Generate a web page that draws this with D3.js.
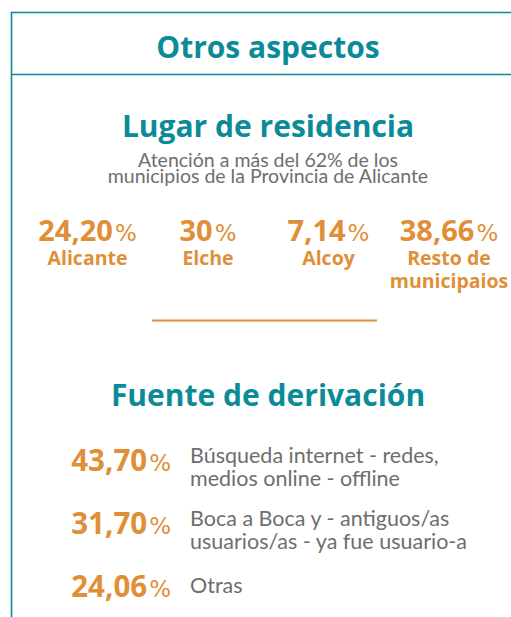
<!DOCTYPE html>
<html>
<head>
<meta charset="utf-8">
<script src="https://cdn.jsdelivr.net/npm/d3@7"></script>
<style>
  html, body { margin: 0; padding: 0; background: #fff; }
  svg { display: block; }
</style>
</head>
<body>
<svg id="chart" width="511" height="617"></svg>
<script>
// ---- data ----
const mainTitle = "Otros aspectos";
const residenceTitle = "Lugar de residencia";
const residenceSubtitle = ["Atención a más del 62% de los", "municipios de la Provincia de Alicante"];
const residenceCategories = ["Alicante", "Elche", "Alcoy", "Resto de municipaios"];
const residenceLabelLines = [["Alicante"], ["Elche"], ["Alcoy"], ["Resto de", "municipaios"]];
const residenceValues = [24.20, 30, 7.14, 38.66];
const sourceTitle = "Fuente de derivación";
const sourceCategories = ["Búsqueda internet", "Boca a Boca", "Otras"];
const sourceLabelLines = [
  ["Búsqueda internet - redes,", "medios online - offline"],
  ["Boca a Boca y - antiguos/as", "usuarios/as - ya fue usuario-a"],
  ["Otras"]
];
const sourceValues = [43.70, 31.70, 24.06];

// ---- style ----
const TEAL = "#0b8b98";
const ORANGE = "#df8f37";
const GRAY = "#6e6e6e";
const BOLD = "'Open Sans', Lato, sans-serif";
const LIGHT = "Lato, 'Open Sans', sans-serif";
const PCT = "'DejaVu Sans', 'Open Sans', sans-serif";

const W = 511, H = 617;
const svg = d3.select("#chart");

const fmt = v => Number.isInteger(v) ? String(v) : d3.format(".2f")(v).replace(".", ",");

// frame
svg.append("path")
  .attr("d", `M11.5,${H} V12.5 H${W}`)
  .attr("fill", "none").attr("stroke", TEAL).attr("stroke-width", 1.6);
svg.append("line")
  .attr("x1", 11.5).attr("x2", W).attr("y1", 74.5).attr("y2", 74.5)
  .attr("stroke", TEAL).attr("stroke-width", 1.6);

const cx = 268;

svg.append("text").text(mainTitle)
  .attr("x", cx).attr("y", 58).attr("text-anchor", "middle")
  .attr("font-family", BOLD).attr("font-weight", 700).attr("font-size", 30)
  .attr("fill", TEAL);

svg.append("text").text(residenceTitle)
  .attr("x", cx).attr("y", 137).attr("text-anchor", "middle")
  .attr("font-family", BOLD).attr("font-weight", 700).attr("font-size", 30)
  .attr("fill", TEAL);

svg.append("g").selectAll("text").data(residenceSubtitle).join("text")
  .text(d => d)
  .attr("x", cx).attr("y", (d, i) => 167 + i * 16).attr("text-anchor", "middle")
  .attr("font-family", LIGHT).attr("font-weight", 400).attr("font-size", 19.5)
  .attr("fill", GRAY);

// residence columns
const xCol = d3.scalePoint().domain(residenceCategories).range([87.5, 449]);
const cols = svg.append("g").selectAll("g").data(residenceCategories).join("g")
  .attr("transform", d => `translate(${xCol(d)},0)`);
const numText = cols.append("text")
  .attr("y", 241).attr("text-anchor", "middle")
  .attr("font-family", BOLD).attr("font-weight", 700).attr("font-size", 29)
  .attr("fill", ORANGE);
numText.append("tspan").text((d, i) => fmt(residenceValues[i]));
numText.append("tspan").text("%").attr("font-family", PCT).attr("font-size", 23)
  .attr("font-weight", 400).attr("dx", 2);
cols.each(function (d, i) {
  d3.select(this).selectAll("text.lbl").data(residenceLabelLines[i]).join("text")
    .attr("class", "lbl").text(t => t)
    .attr("y", (t, j) => 264.5 + j * 23).attr("text-anchor", "middle")
    .attr("font-family", BOLD).attr("font-weight", 700).attr("font-size", 19.5)
    .attr("fill", ORANGE);
});

// separator
svg.append("line")
  .attr("x1", 152).attr("x2", 377).attr("y1", 320.5).attr("y2", 320.5)
  .attr("stroke", ORANGE).attr("stroke-width", 2);

svg.append("text").text(sourceTitle)
  .attr("x", cx).attr("y", 406).attr("text-anchor", "middle")
  .attr("font-family", BOLD).attr("font-weight", 700).attr("font-size", 30)
  .attr("fill", TEAL);

// source rows
const yRow = d3.scalePoint().domain(sourceCategories).range([471, 597]);
const rows = svg.append("g").selectAll("g").data(sourceCategories).join("g")
  .attr("transform", d => `translate(0,${yRow(d)})`);
const rNum = rows.append("text")
  .attr("x", 171).attr("y", 0).attr("text-anchor", "end")
  .attr("font-family", BOLD).attr("font-weight", 700).attr("font-size", 29.5)
  .attr("fill", ORANGE);
rNum.append("tspan").text((d, i) => fmt(sourceValues[i]));
rNum.append("tspan").text("%").attr("font-family", PCT).attr("font-size", 23)
  .attr("font-weight", 400).attr("dx", 2);
rows.each(function (d, i) {
  const lines = sourceLabelLines[i];
  d3.select(this).selectAll("text.lbl").data(lines).join("text")
    .attr("class", "lbl").text(t => t)
    .attr("x", 190)
    .attr("y", (t, j) => (lines.length > 1 ? -8.5 : -4) + j * 23)
    .attr("font-family", LIGHT).attr("font-weight", 400).attr("font-size", 21.5)
    .attr("fill", GRAY);
});
</script>
</body>
</html>
